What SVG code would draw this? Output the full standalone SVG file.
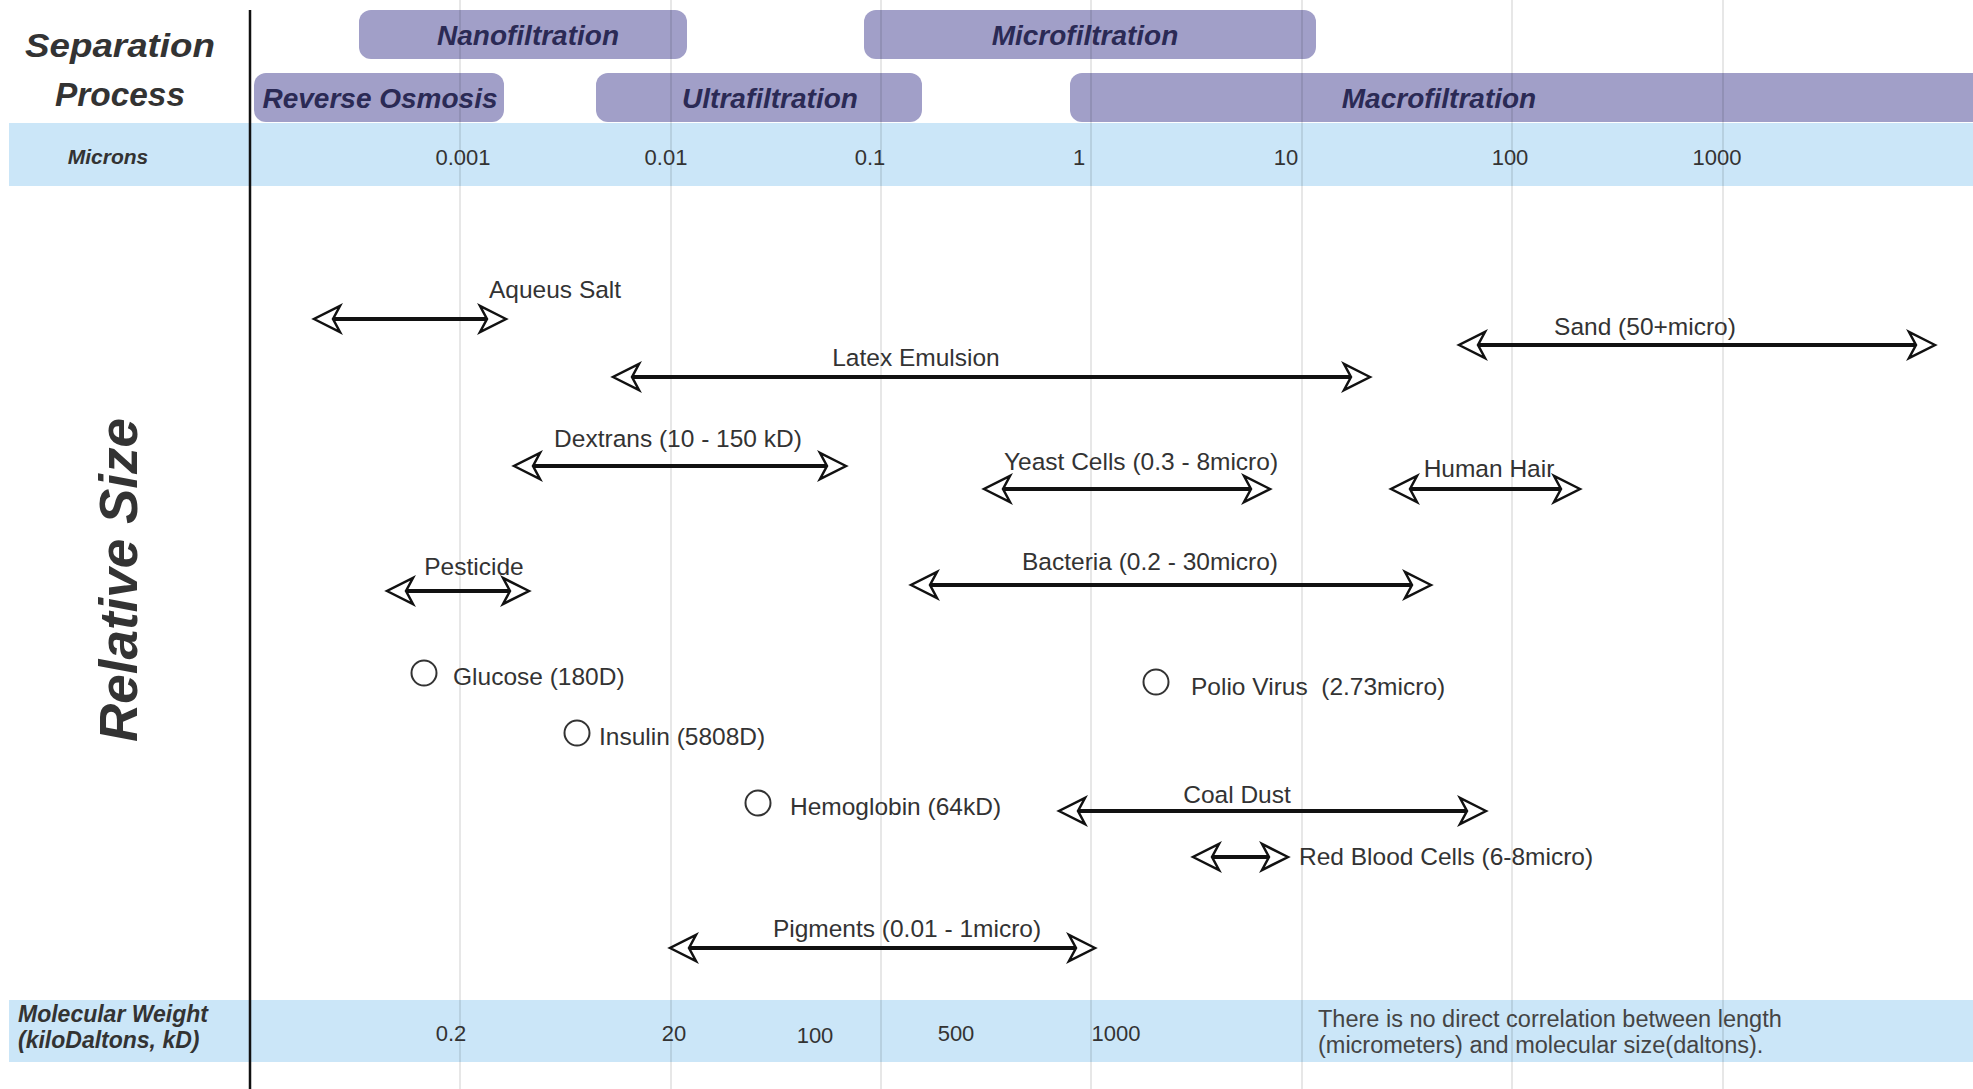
<svg xmlns="http://www.w3.org/2000/svg" width="1973" height="1089" viewBox="0 0 1973 1089">
<style>
.bg{fill:#ffffff}
.band{fill:#cbe6f8}
.proc rect{fill:#a19fc8}
.proc text{font-family:"Liberation Sans",Arial,sans-serif;font-weight:bold;font-style:italic;font-size:28px;fill:#2b2a55;text-anchor:middle}
.hdr{font-family:"Liberation Sans",Arial,sans-serif;font-weight:bold;font-style:italic;fill:#333}
.num{font-family:"Liberation Sans",Arial,sans-serif;font-size:22px;fill:#333;text-anchor:middle}
.lbl{font-family:"Liberation Sans",Arial,sans-serif;font-size:24.5px;fill:#333}
.mid{text-anchor:middle}
.note{font-family:"Liberation Sans",Arial,sans-serif;font-size:23.5px;fill:#444}
.grid line{stroke:#000;stroke-opacity:0.13;stroke-width:1.5}
.rng line{stroke:#111;stroke-width:4}
.rng line{marker-start:url(#ah);marker-end:url(#ah)}
.dot{fill:none;stroke:#333;stroke-width:2}
</style>
<defs>
<marker id="ah" markerUnits="userSpaceOnUse" markerWidth="40" markerHeight="40" refX="0" refY="0" orient="auto-start-reverse" overflow="visible">
<path d="M19,0 L-7,-13 L0,0 L-7,13 Z" fill="#fff" stroke="#111" stroke-width="2.5" stroke-linejoin="miter"/>
</marker>
</defs>
<rect class="bg" x="0" y="0" width="1973" height="1089"/>
<g id="bands">
<rect class="band" x="9" y="123" width="1964" height="63"/>
<rect class="band" x="9" y="1000" width="1964" height="62"/>
</g>
<g id="processes" class="proc">
<g id="nanofiltration"><rect x="359" y="10" width="328" height="49" rx="12"/><text x="528" y="45">Nanofiltration</text></g>
<g id="microfiltration"><rect x="864" y="10" width="452" height="49" rx="12"/><text x="1085" y="45">Microfiltration</text></g>
<g id="reverse-osmosis"><rect x="254" y="73" width="250" height="49" rx="12"/><text x="380" y="108">Reverse Osmosis</text></g>
<g id="ultrafiltration"><rect x="596" y="73" width="326" height="49" rx="12"/><text x="770" y="108">Ultrafiltration</text></g>
<g id="macrofiltration"><rect x="1070" y="73" width="920" height="49" rx="12"/><text x="1439" y="108">Macrofiltration</text></g>
</g>
<g id="grid" class="grid">
<line x1="460" y1="0" x2="460" y2="1089"/>
<line x1="671" y1="0" x2="671" y2="1089"/>
<line x1="881" y1="0" x2="881" y2="1089"/>
<line x1="1091" y1="0" x2="1091" y2="1089"/>
<line x1="1302" y1="0" x2="1302" y2="1089"/>
<line x1="1512" y1="0" x2="1512" y2="1089"/>
<line x1="1723" y1="0" x2="1723" y2="1089"/>
</g>
<line id="divider" x1="250" y1="10" x2="250" y2="1089" stroke="#111" stroke-width="2.5"/>
<g id="headings">
<text class="hdr" x="120" y="57" font-size="34" text-anchor="middle" textLength="190" lengthAdjust="spacingAndGlyphs">Separation</text>
<text class="hdr" x="120" y="106" font-size="34" text-anchor="middle" textLength="130" lengthAdjust="spacingAndGlyphs">Process</text>
<text class="hdr" x="108" y="164" font-size="21" text-anchor="middle">Microns</text>
<text class="hdr" x="137" y="580" font-size="53" text-anchor="middle" transform="rotate(-90 137 580)">Relative Size</text>
<text class="hdr" x="18" y="1022" font-size="23">Molecular Weight</text>
<text class="hdr" x="18" y="1048" font-size="23">(kiloDaltons, kD)</text>
</g>
<g id="micron-scale" class="num">
<text x="463" y="165">0.001</text>
<text x="666" y="165">0.01</text>
<text x="870" y="165">0.1</text>
<text x="1079" y="165">1</text>
<text x="1286" y="165">10</text>
<text x="1510" y="165">100</text>
<text x="1717" y="165">1000</text>
</g>
<g id="weight-scale" class="num">
<text x="451" y="1041">0.2</text>
<text x="674" y="1041">20</text>
<text x="815" y="1043">100</text>
<text x="956" y="1041">500</text>
<text x="1116" y="1041">1000</text>
</g>
<g id="note" class="note">
<text x="1318" y="1027">There is no direct correlation between length</text>
<text x="1318" y="1053">(micrometers) and molecular size(daltons).</text>
</g>
<g id="connectors" class="rng">
<line id="r-aqueus" x1="333" y1="319" x2="487" y2="319"/>
<line id="r-latex" x1="632" y1="377" x2="1351" y2="377"/>
<line id="r-sand" x1="1478" y1="345" x2="1916" y2="345"/>
<line id="r-dextrans" x1="533" y1="466" x2="827" y2="466"/>
<line id="r-yeast" x1="1003" y1="489" x2="1251" y2="489"/>
<line id="r-hair" x1="1410" y1="489" x2="1561" y2="489"/>
<line id="r-pesticide" x1="406" y1="591" x2="510" y2="591"/>
<line id="r-bacteria" x1="930" y1="585" x2="1412" y2="585"/>
<line id="r-pigments" x1="689" y1="948" x2="1076" y2="948"/>
<line id="r-coal" x1="1078" y1="811" x2="1467" y2="811"/>
<line id="r-rbc" x1="1212" y1="857" x2="1269" y2="857"/>
</g>
<g id="aqueus-salt"><text class="lbl" x="489" y="298">Aqueus Salt</text></g>
<g id="latex-emulsion"><text class="lbl mid" x="916" y="366">Latex Emulsion</text></g>
<g id="sand"><text class="lbl mid" x="1645" y="335">Sand (50+micro)</text></g>
<g id="dextrans"><text class="lbl mid" x="678" y="447">Dextrans (10 - 150 kD)</text></g>
<g id="yeast-cells"><text class="lbl mid" x="1141" y="470">Yeast Cells (0.3 - 8micro)</text></g>
<g id="human-hair"><text class="lbl mid" x="1489" y="477">Human Hair</text></g>
<g id="pesticide"><text class="lbl mid" x="474" y="575">Pesticide</text></g>
<g id="bacteria"><text class="lbl mid" x="1150" y="570">Bacteria (0.2 - 30micro)</text></g>
<g id="glucose"><circle class="dot" cx="424" cy="673" r="12.5"/><text class="lbl" x="453" y="685">Glucose (180D)</text></g>
<g id="insulin"><circle class="dot" cx="577" cy="733" r="12.5"/><text class="lbl" x="599" y="745">Insulin (5808D)</text></g>
<g id="hemoglobin"><circle class="dot" cx="758" cy="803" r="12.5"/><text class="lbl" x="790" y="815">Hemoglobin (64kD)</text></g>
<g id="polio-virus"><circle class="dot" cx="1156" cy="682" r="12.5"/><text class="lbl" x="1191" y="695" xml:space="preserve">Polio Virus  (2.73micro)</text></g>
<g id="coal-dust"><text class="lbl mid" x="1237" y="803">Coal Dust</text></g>
<g id="red-blood-cells"><text class="lbl" x="1299" y="865">Red Blood Cells (6-8micro)</text></g>
<g id="pigments"><text class="lbl mid" x="907" y="937">Pigments (0.01 - 1micro)</text></g>
</svg>
